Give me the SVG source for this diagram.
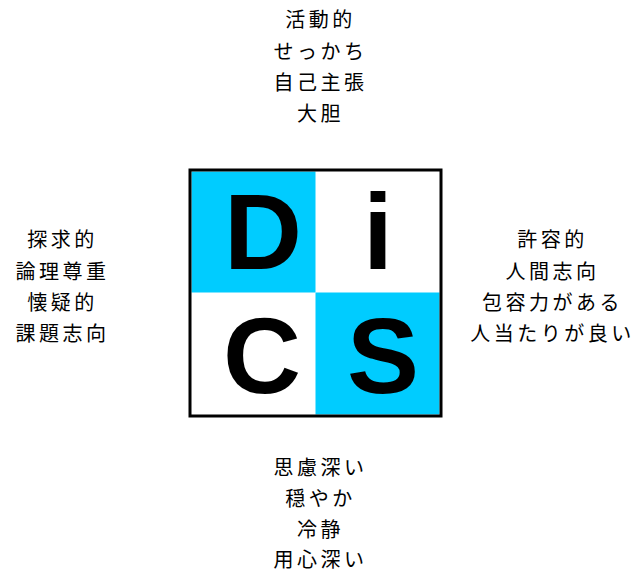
<svg xmlns="http://www.w3.org/2000/svg" width="635" height="569" viewBox="0 0 635 569">
<style>
.lbl{font-family:"Noto Sans CJK JP","Noto Sans",sans-serif;font-size:20px;letter-spacing:3.5px;fill:#000;text-anchor:middle}
.big{font-family:"Liberation Sans",Arial,sans-serif;font-weight:bold;font-size:108px;fill:#000;text-anchor:middle}
.cy{fill:#00CCFF}
</style>
<rect width="635" height="569" fill="#fff"/>
<g id="box">
<rect x="190" y="170" width="251" height="246" fill="#fff"/>
<rect class="cy" x="191.5" y="171.5" width="124" height="121"/>
<rect class="cy" x="315.5" y="292.5" width="124" height="122"/>
<rect x="190" y="170" width="251" height="246" fill="none" stroke="#000" stroke-width="3"/>
</g>
<g id="D"><text class="big" x="263" y="269">D</text></g>
<g id="i"><text class="big" x="378" y="269">i</text></g>
<g id="C"><text class="big" x="262" y="393">C</text></g>
<g id="S"><text class="big" x="383" y="393">S</text></g>
<g id="top">
<text class="lbl" x="320.5" y="27">活動的</text>
<text class="lbl" x="320.5" y="59">せっかち</text>
<text class="lbl" x="320.5" y="90">自己主張</text>
<text class="lbl" x="320.5" y="121">大胆</text>
</g>
<g id="left">
<text class="lbl" x="62.5" y="247">探求的</text>
<text class="lbl" x="62.5" y="279">論理尊重</text>
<text class="lbl" x="62.5" y="310">懐疑的</text>
<text class="lbl" x="62.5" y="341">課題志向</text>
</g>
<g id="right">
<text class="lbl" x="552.5" y="247">許容的</text>
<text class="lbl" x="552.5" y="279">人間志向</text>
<text class="lbl" x="552.5" y="310">包容力がある</text>
<text class="lbl" x="552.5" y="341">人当たりが良い</text>
</g>
<g id="bottom">
<text class="lbl" x="320.5" y="475">思慮深い</text>
<text class="lbl" x="320.5" y="506">穏やか</text>
<text class="lbl" x="320.5" y="537">冷静</text>
<text class="lbl" x="320.5" y="567">用心深い</text>
</g>
<g id="connectors"></g>
</svg>
